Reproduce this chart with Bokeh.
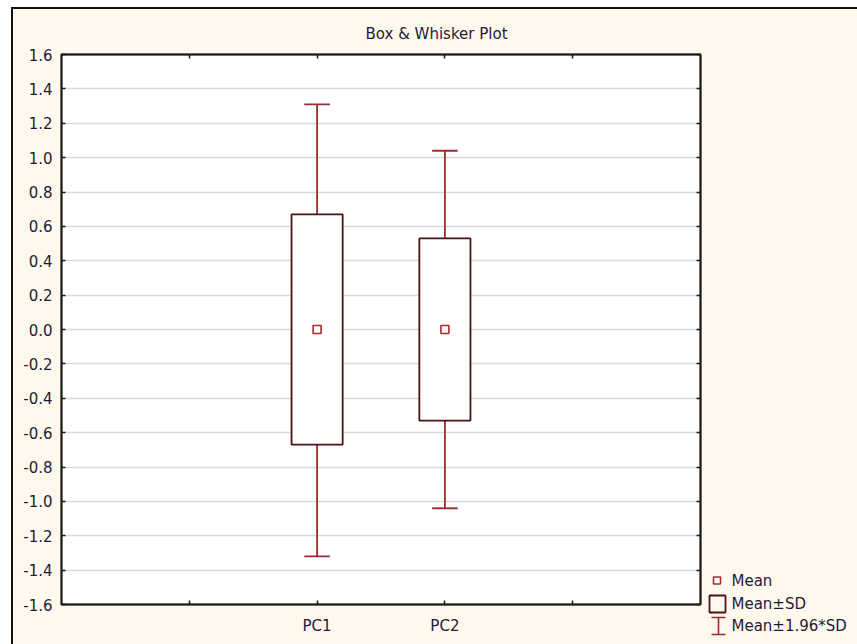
from bokeh.plotting import figure
from bokeh.models import (FixedTicker, LinearAxis, Range1d, ColumnDataSource,
                          NumeralTickFormatter, Row)
from bokeh.core.properties import value
from bokeh.embed import file_html
from bokeh.resources import INLINE

# ---- data ----
categories = ["PC1", "PC2"]
cat_pos = [2, 3]
means = [0.0, 0.0]
sd_top = [0.67, 0.53]
sd_bottom = [-0.67, -0.53]
whisker_top = [1.31, 1.04]
whisker_bottom = [-1.32, -1.04]
y_ticks = [-1.6, -1.4, -1.2, -1.0, -0.8, -0.6, -0.4, -0.2, 0.0,
           0.2, 0.4, 0.6, 0.8, 1.0, 1.2, 1.4, 1.6]
x_ticks = [1, 2, 3, 4]
x_tick_labels = {1: "", 2: categories[0], 3: categories[1], 4: ""}
legend_labels = ["Mean", "Mean\u00b1SD", "Mean\u00b11.96*SD"]
title_text = "Box & Whisker Plot"

# ---- styles ----
FONT = "DejaVu Sans"
FS = "15px"
TXT = "#1c1c3a"
CREAM = "#fff8ec"
BOX_C = "#4a1417"
WHISK_C = "#9c2a30"
MEAN_C = "#b0282e"
BOX_W = 0.4
CAP_HALF = 0.1
LW = 1.8

H = 635
WM = 691   # main chart
WL = 153   # legend strip

p = figure(width=WM, height=H, output_backend="svg", toolbar_location=None,
           x_range=Range1d(0, 5), y_range=Range1d(-1.6, 1.6),
           min_border_left=48, min_border_right=4, min_border_top=45,
           min_border_bottom=40, background_fill_color="white",
           border_fill_color=CREAM, outline_line_color="#1a1a1a",
           outline_line_width=2, frame_align=False)

left_ax = p.yaxis[0]
bottom_ax = p.xaxis[0]

src = ColumnDataSource(dict(
    x=cat_pos, mean=means, top=sd_top, bottom=sd_bottom,
    wt=whisker_top, wb=whisker_bottom,
    cl=[x - CAP_HALF for x in cat_pos], cr=[x + CAP_HALF for x in cat_pos]))

# whisker stems and caps
p.segment(x0="x", y0="top", x1="x", y1="wt", source=src, line_color=WHISK_C, line_width=LW)
p.segment(x0="x", y0="bottom", x1="x", y1="wb", source=src, line_color=WHISK_C, line_width=LW)
p.segment(x0="cl", y0="wt", x1="cr", y1="wt", source=src, line_color=WHISK_C, line_width=LW)
p.segment(x0="cl", y0="wb", x1="cr", y1="wb", source=src, line_color=WHISK_C, line_width=LW)
# boxes
p.vbar(x="x", width=BOX_W, top="top", bottom="bottom", source=src,
       fill_color="white", line_color=BOX_C, line_width=LW)
# mean markers
p.scatter(x="x", y="mean", source=src, marker="square", size=8,
          fill_color="white", line_color=MEAN_C, line_width=1.6)

# axes
yt = FixedTicker(ticks=y_ticks)
xt = FixedTicker(ticks=x_ticks)
left_ax.ticker = yt
left_ax.formatter = NumeralTickFormatter(format="0.0")
bottom_ax.ticker = xt
bottom_ax.major_label_overrides = x_tick_labels

right_ax = LinearAxis(ticker=yt)
top_ax = LinearAxis(ticker=xt)
p.add_layout(right_ax, "right")
p.add_layout(top_ax, "above")

for ax in [left_ax, bottom_ax, right_ax, top_ax]:
    ax.axis_line_color = "#1a1a1a"
    ax.axis_line_width = 1.5
    ax.major_tick_in = 4
    ax.major_tick_out = 0
    ax.major_tick_line_color = "#1a1a1a"
    ax.major_tick_line_width = 1.5
    ax.minor_tick_line_color = None
    ax.major_label_text_font = FONT
    ax.major_label_text_font_size = FS
    ax.major_label_text_color = TXT
left_ax.major_label_standoff = 9
bottom_ax.major_label_standoff = 12
for ax in [right_ax, top_ax]:
    ax.major_label_text_color = None
    ax.major_label_text_font_size = "0px"
    ax.major_label_standoff = 0

p.xgrid.grid_line_color = None
p.ygrid.ticker = yt
p.ygrid.grid_line_color = "#dadada"
p.ygrid.grid_line_width = 1.5

# title
p.title.text = title_text
p.title.align = "left"
p.title.offset = 304
p.title.vertical_align = "middle"
p.title.standoff = 22
p.title.text_font = FONT
p.title.text_font_size = FS
p.title.text_font_style = "normal"
p.title.text_color = TXT

# ---- legend strip (pixel coordinates, y downwards) ----
lg = figure(width=WL, height=H, output_backend="svg", toolbar_location=None,
            title=None, x_range=Range1d(0, WL), y_range=Range1d(H, 0),
            x_axis_location=None, y_axis_location=None, min_border=0,
            background_fill_color=CREAM, border_fill_color=CREAM,
            outline_line_color=None, frame_align=False)
lg.grid.visible = False
row_y = [571, 594, 616]
# Mean symbol
lg.rect(x=[12.5], y=[row_y[0]], width=7, height=7, fill_color="white",
        line_color=MEAN_C, line_width=1.6)
# Mean±SD symbol
lg.quad(left=[5], right=[21], top=[row_y[1] - 8], bottom=[row_y[1] + 9],
        fill_color=None, line_color=BOX_C, line_width=LW)
# Mean±1.96*SD symbol
lg.segment(x0=[14, 7, 7], y0=[row_y[2] - 8, row_y[2] - 8, row_y[2] + 9],
           x1=[14, 21, 21], y1=[row_y[2] + 9, row_y[2] - 8, row_y[2] + 9],
           line_color=WHISK_C, line_width=1.6)
lg.text(x=[27, 27, 27], y=row_y, text=legend_labels, text_font=value(FONT),
        text_font_size=value(FS), text_color=TXT, text_baseline="middle",
        text_align="left")

layout = Row(children=[p, lg], spacing=0, margin=(9, 0, 0, 13),
             styles={"outline": "2px solid #111111", "background-color": CREAM})

open("out.html", "w").write(file_html(layout, INLINE))
